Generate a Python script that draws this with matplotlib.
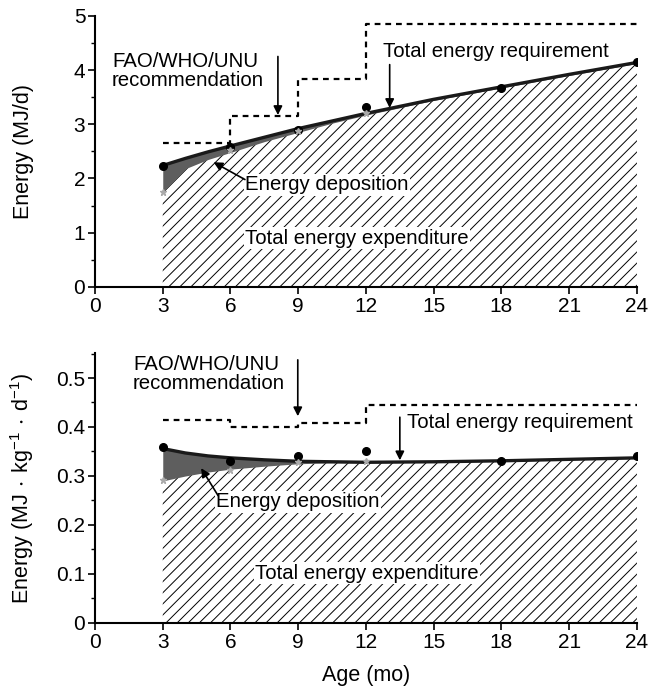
import matplotlib
matplotlib.use("Agg")
import matplotlib.pyplot as plt
from matplotlib.ticker import MultipleLocator

plt.rcParams['font.family'] = ['Liberation Sans', 'DejaVu Sans']
plt.rcParams['mathtext.fontset'] = 'custom'
plt.rcParams['mathtext.rm'] = 'Liberation Sans'
plt.rcParams['mathtext.default'] = 'regular'
plt.rcParams['hatch.linewidth'] = 0.7

# ages where the curves were read
age_curve = [3, 4, 5, 6, 7.5, 9, 10.5, 12, 15, 18, 21, 24]

# top panel, MJ/d
ter_curve_d = [2.24, 2.37, 2.49, 2.60, 2.76, 2.92, 3.06, 3.20, 3.46, 3.69, 3.92, 4.14]
tee_curve_d = [1.75, 2.18, 2.35, 2.48, 2.68, 2.85, 3.02, 3.17, 3.44, 3.67, 3.90, 4.12]
age_pts = [3, 6, 9, 12, 18, 24]
ter_pts_d = [2.23, 2.58, 2.90, 3.31, 3.67, 4.15]
tee_pts_d = [1.75, 2.53, 2.88, 3.20]
fao_edges = [3, 6, 9, 12, 24]
fao_d = [2.66, 3.15, 3.84, 4.85]

# bottom panel, MJ/kg/d
ter_curve_kg = [0.356, 0.347, 0.341, 0.337, 0.333, 0.330, 0.329, 0.328, 0.329, 0.331, 0.334, 0.337]
tee_curve_kg = [0.290, 0.300, 0.308, 0.314, 0.320, 0.325, 0.327, 0.327, 0.328, 0.330, 0.333, 0.336]
ter_pts_kg = [0.360, 0.331, 0.340, 0.350, 0.331, 0.340]
tee_pts_kg = [0.292, 0.312, 0.328, 0.330]
fao_kg = [0.414, 0.400, 0.409, 0.445]

fig = plt.figure(figsize=(6.49, 6.88), dpi=100)
ax1 = fig.add_axes([0.1464, 0.583, 0.835, 0.394])
ax2 = fig.add_axes([0.1464, 0.0945, 0.835, 0.3924])

FS = 14.7

def draw(ax, ter_c, tee_c, ter_p, tee_p, fao):
    ax.fill_between(age_curve, 0, tee_c, facecolor='white', edgecolor='black',
                    hatch='///', linewidth=0, zorder=1)
    ax.fill_between(age_curve, tee_c, ter_c, color='#5e5e5e', linewidth=0, zorder=2)
    ax.plot(age_curve, ter_c, color='#1a1a1a', lw=2.4, zorder=3)
    ax.plot(age_pts, ter_p, 'o', color='black', ms=5.5, zorder=4)
    ax.plot(age_pts[:len(tee_p)], tee_p, '*', color='#aaaaaa', ms=5, zorder=4)
    ax.step(fao_edges, fao + [fao[-1]], where='post', color='black', lw=1.6,
            linestyle=(0, (2.6, 2.2)), zorder=3)
    ax.set_xlim(0, 24)
    ax.xaxis.set_major_locator(MultipleLocator(3))
    for s in ['top', 'right']:
        ax.spines[s].set_visible(False)
    for s in ['left', 'bottom']:
        ax.spines[s].set_linewidth(1.5)
    ax.tick_params(which='major', direction='out', length=5, width=1.2, labelsize=15, pad=2)
    ax.tick_params(which='minor', direction='out', length=3, width=1.0)

bbox = dict(facecolor='white', edgecolor='none', pad=1)
arrow = dict(arrowstyle='-|>', color='black', lw=1.2, mutation_scale=13, shrinkA=0, shrinkB=0)

draw(ax1, ter_curve_d, tee_curve_d, ter_pts_d, tee_pts_d, fao_d)
ax1.set_ylim(0, 5)
ax1.yaxis.set_major_locator(MultipleLocator(1))
ax1.yaxis.set_minor_locator(MultipleLocator(0.5))
ax1.set_ylabel('Energy (MJ/d)', fontsize=15.5)
ax1.yaxis.set_label_coords(-0.112, 0.5)
ax1.text(0.75, 3.98, 'FAO/WHO/UNU\nrecommendation', fontsize=FS, va='center', ha='left',
         linespacing=0.95)
ax1.annotate('', xy=(8.1, 3.17), xytext=(8.1, 4.25), arrowprops=arrow)
ax1.text(12.75, 4.34, 'Total energy requirement', fontsize=FS, va='center', ha='left')
ax1.annotate('', xy=(13.05, 3.30), xytext=(13.05, 4.1), arrowprops=arrow)
ax1.text(6.64, 1.88, 'Energy deposition', fontsize=FS, va='center', ha='left', bbox=bbox, zorder=5)
ax1.annotate('', xy=(5.25, 2.3), xytext=(6.64, 1.98), arrowprops=arrow, zorder=6)
ax1.text(6.64, 0.9, 'Total energy expenditure', fontsize=FS, va='center', ha='left', bbox=bbox, zorder=5)

draw(ax2, ter_curve_kg, tee_curve_kg, ter_pts_kg, tee_pts_kg, fao_kg)
ax2.set_ylim(0, 0.551)
ax2.set_yticks([0, 0.1, 0.2, 0.3, 0.4, 0.5])
ax2.set_yticklabels(['0', '0.1', '0.2', '0.3', '0.4', '0.5'])
ax2.yaxis.set_minor_locator(MultipleLocator(0.05))
ax2.set_ylabel('Energy (MJ$\\,\\cdot\\,$kg$^{-1}$$\\,\\cdot\\,$d$^{-1}$)', fontsize=15.5)
ax2.yaxis.set_label_coords(-0.108, 0.5)
ax2.set_xlabel('Age (mo)', fontsize=15.5)
ax2.xaxis.set_label_coords(0.5, -0.155)
ax2.text(1.68, 0.508, 'FAO/WHO/UNU\nrecommendation', fontsize=FS, va='center', ha='left',
         linespacing=0.95)
ax2.annotate('', xy=(8.98, 0.422), xytext=(8.98, 0.537), arrowprops=arrow)
ax2.text(13.8, 0.41, 'Total energy requirement', fontsize=FS, va='center', ha='left')
ax2.annotate('', xy=(13.5, 0.332), xytext=(13.5, 0.42), arrowprops=arrow)
ax2.text(5.38, 0.247, 'Energy deposition', fontsize=FS, va='center', ha='left', bbox=bbox, zorder=5)
ax2.annotate('', xy=(4.7, 0.316), xytext=(5.45, 0.26), arrowprops=arrow, zorder=6)
ax2.text(7.09, 0.102, 'Total energy expenditure', fontsize=FS, va='center', ha='left', bbox=bbox, zorder=5)

fig.savefig('out.png', dpi=100)
